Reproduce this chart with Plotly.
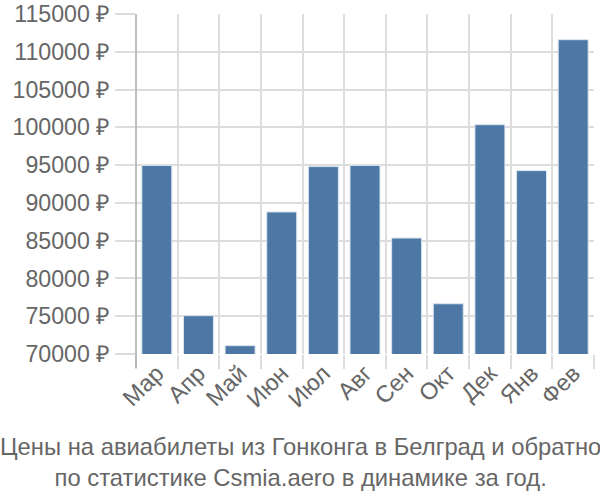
import plotly.graph_objects as go

months = ["Мар", "Апр", "Май", "Июн", "Июл", "Авг", "Сен", "Окт", "Дек", "Янв", "Фев"]
prices = [94950, 75070, 71100, 88800, 94800, 94950, 85350, 76650, 100350, 94270, 111600]
y_ticks = [70000, 75000, 80000, 85000, 90000, 95000, 100000, 105000, 110000, 115000]
y_tick_labels = [f"{v} ₽" for v in y_ticks]
title_lines = ["Цены на авиабилеты из Гонконга в Белград и обратно",
               "по статистике Csmia.aero в динамике за год."]

grid = "#dddddd"
txt = "#666666"
font = "Liberation Sans, Arial, sans-serif"

fig = go.Figure(go.Bar(
    x=months, y=prices, base=0,
    marker=dict(color="#4d78a6", line=dict(color="#dbe4ef", width=1)),
))

L, R, T, B = 136, 6, 14, 146
W, H = 600, 500
pw = W - L - R

fig.update_layout(
    width=W, height=H,
    margin=dict(l=L, r=R, t=T, b=B, autoexpand=False),
    paper_bgcolor="white", plot_bgcolor="white",
    bargap=0.28,
    showlegend=False,
    font=dict(family=font, color=txt),
    xaxis=dict(
        type="category", tickson="boundaries", showgrid=True, gridcolor=grid, gridwidth=1.5,
        ticks="outside", ticklen=14, tickcolor=grid, tickwidth=1.5,
        tickangle=-45, tickfont=dict(size=23.5, color=txt),
        showline=False, zeroline=False, automargin=False,
    ),
    yaxis=dict(
        range=[70000, 115000], tickvals=y_ticks, ticktext=y_tick_labels,
        showgrid=True, gridcolor=grid, gridwidth=1.5,
        ticks="outside", ticklen=20, tickcolor=grid, tickwidth=1.5,
        tickfont=dict(size=23.2, color=txt),
        showline=False, zeroline=False, automargin=False,
    ),
    shapes=[dict(type="line", xref="paper", yref="paper", x0=0, x1=0, y0=-14/340, y1=1,
                 line=dict(color="#aaaaaa", width=1.5))],
    annotations=[dict(
        xref="paper", yref="paper", x=(300 - L) / pw, y=-(431 - T - 340) / 340,
        xanchor="center", yanchor="top", showarrow=False,
        text="<br>".join(title_lines), align="center",
        font=dict(size=23.8, color=txt, family=font),
    )],
)

fig.write_html("out.html")
